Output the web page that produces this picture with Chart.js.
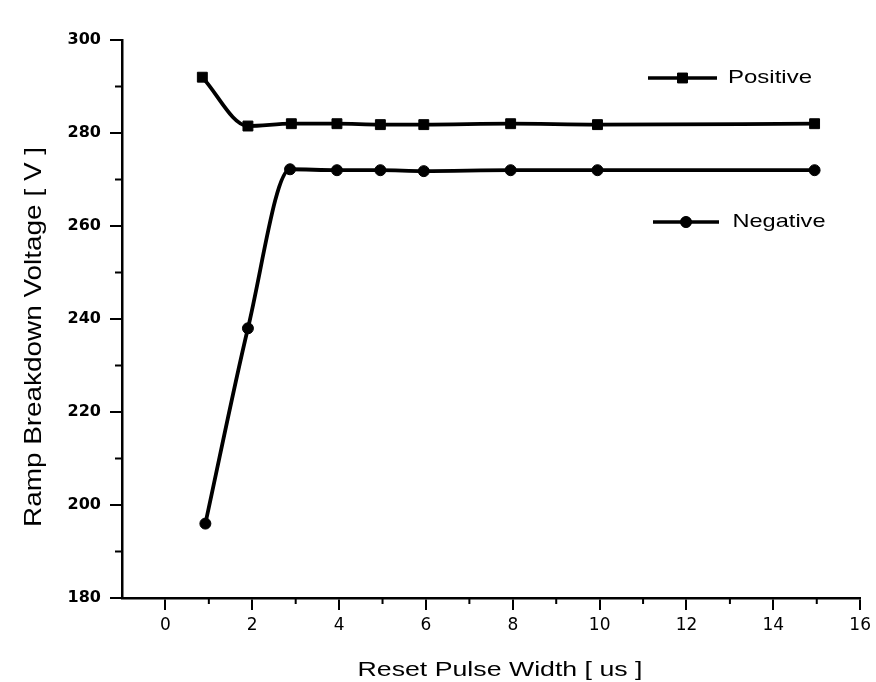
<!DOCTYPE html>
<html>
<head>
<meta charset="utf-8">
<script src="https://cdn.jsdelivr.net/npm/chart.js@4.4.0/dist/chart.umd.min.js"></script>
<style>
  html, body { margin: 0; padding: 0; background: #fff; }
  #wrap { width: 876px; height: 682px; }
</style>
</head>
<body>
<div id="wrap"><canvas id="rampChart" width="876" height="682"></canvas></div>
<script>
// values
const positiveX = [0.85, 1.9, 2.9, 3.95, 4.95, 5.95, 7.95, 9.95, 14.95];
const positiveY = [292, 281.5, 282, 282, 281.8, 281.8, 282, 281.8, 282];
const negativeX = [0.92, 1.9, 2.87, 3.95, 4.95, 5.95, 7.95, 9.95, 14.95];
const negativeY = [196, 238, 272.2, 272, 272, 271.8, 272, 272, 272];

const xTicks = [0, 2, 4, 6, 8, 10, 12, 14, 16];
const xMinor = [1, 3, 5, 7, 9, 11, 13, 15];
const yTicks = [180, 200, 220, 240, 260, 280, 300];
const yMinor = [190, 210, 230, 250, 270, 290];

const xTitle = 'Reset Pulse Width [ us ]';
const yTitle = 'Ramp Breakdown Voltage [ V ]';
const seriesNames = ['Positive', 'Negative'];

const toPoints = (xs, ys) => xs.map((x, i) => ({ x: x, y: ys[i] }));

// the scan is wider than it is tall, so text gets stretched to a target length
function stretchText(ctx, text, x, y, size, len, rot) {
  ctx.save();
  ctx.font = size + 'px "Liberation Sans", Arial, sans-serif';
  const sx = len / ctx.measureText(text).width;
  ctx.translate(x, y);
  if (rot) ctx.rotate(rot);
  ctx.scale(sx, 1);
  ctx.fillStyle = '#000';
  ctx.textBaseline = 'middle';
  ctx.textAlign = 'center';
  ctx.fillText(text, 0, 0);
  ctx.restore();
}

const extrasPlugin = {
  id: 'extras',
  afterDraw(chart) {
    const ctx = chart.ctx;
    const xs = chart.scales.x;
    const ys = chart.scales.y;
    const area = chart.chartArea;

    // minor ticks
    ctx.save();
    ctx.strokeStyle = '#000';
    ctx.lineWidth = 2;
    ctx.beginPath();
    xMinor.forEach(v => {
      const px = xs.getPixelForValue(v);
      ctx.moveTo(px, area.bottom);
      ctx.lineTo(px, area.bottom + 6);
    });
    yMinor.forEach(v => {
      const py = ys.getPixelForValue(v);
      ctx.moveTo(area.left - 7, py);
      ctx.lineTo(area.left, py);
    });
    ctx.stroke();
    ctx.restore();

    // axis titles
    stretchText(ctx, xTitle, 500, 670, 20, 285, 0);
    stretchText(ctx, yTitle, 34, 337, 24, 380, -Math.PI / 2);

    // legend entries, placed like the original
    const items = [
      { name: seriesNames[0], x1: 648, x2: 717, y: 78, style: 'rect', r: 7, tx: 770, len: 84 },
      { name: seriesNames[1], x1: 653, x2: 719, y: 222, style: 'circle', r: 5.5, tx: 779, len: 93 }
    ];
    items.forEach(it => {
      ctx.save();
      ctx.strokeStyle = '#000';
      ctx.lineWidth = 3.5;
      ctx.beginPath();
      ctx.moveTo(it.x1, it.y);
      ctx.lineTo(it.x2, it.y);
      ctx.stroke();
      ctx.fillStyle = '#000';
      ctx.lineWidth = 1;
      Chart.helpers.drawPoint(ctx, { pointStyle: it.style, radius: it.r, borderWidth: 1 }, (it.x1 + it.x2) / 2, it.y);
      ctx.fill();
      ctx.restore();
      stretchText(ctx, it.name, it.tx, it.y, 19, it.len, 0);
    });
  }
};

const ctx = document.getElementById('rampChart').getContext('2d');
new Chart(ctx, {
  type: 'line',
  data: {
    datasets: [
      {
        label: seriesNames[0],
        data: toPoints(positiveX, positiveY),
        borderColor: '#000',
        backgroundColor: '#000',
        borderWidth: 3.8,
        cubicInterpolationMode: 'monotone',
        pointStyle: 'rect',
        pointRadius: 7,
        pointBorderWidth: 1,
        clip: false,
      },
      {
        label: seriesNames[1],
        data: toPoints(negativeX, negativeY),
        borderColor: '#000',
        backgroundColor: '#000',
        borderWidth: 3.8,
        cubicInterpolationMode: 'monotone',
        pointStyle: 'circle',
        pointRadius: 5.5,
        pointBorderWidth: 1,
        clip: false,
      },
    ],
  },
  options: {
    responsive: false,
    animation: false,
    events: [],
    layout: { padding: { left: 0, right: 13, top: 40, bottom: 0 } },
    scales: {
      x: {
        type: 'linear',
        min: -1,
        max: 16,
        afterBuildTicks: s => { s.ticks = xTicks.map(v => ({ value: v })); },
        afterFit: s => { s.height = 84; },
        border: { color: '#000', width: 2.5 },
        grid: { drawOnChartArea: false, tickLength: 12, color: '#000', lineWidth: 2 },
        ticks: {
          color: '#000',
          padding: 5,
          maxRotation: 0,
          font: { family: '"DejaVu Sans", sans-serif', size: 17 },
        },
      },
      y: {
        type: 'linear',
        min: 180,
        max: 300,
        afterBuildTicks: s => { s.ticks = yTicks.map(v => ({ value: v })); },
        afterFit: s => { s.width = 122; },
        border: { color: '#000', width: 2.5 },
        grid: { drawOnChartArea: false, tickLength: 12, color: '#000', lineWidth: 2 },
        ticks: {
          color: '#000',
          padding: 9,
          font: { family: '"DejaVu Sans", sans-serif', size: 16, weight: 'bold' },
        },
      },
    },
    plugins: {
      legend: { display: false },
      tooltip: { enabled: false },
    },
  },
  plugins: [extrasPlugin],
});
</script>
</body>
</html>
